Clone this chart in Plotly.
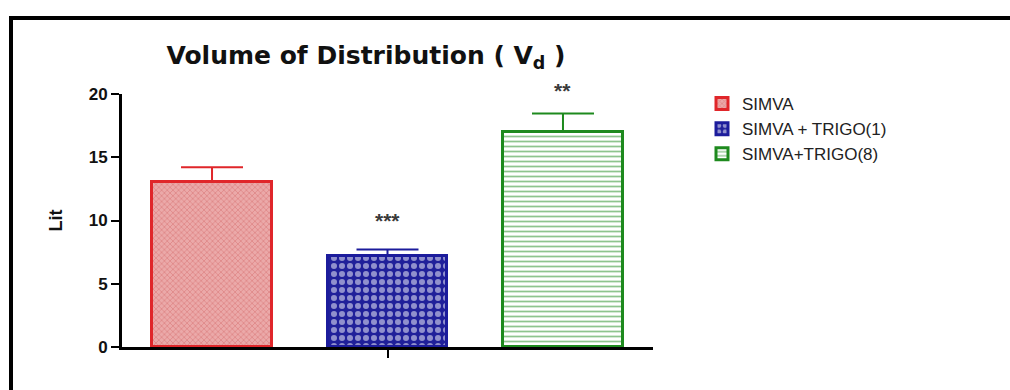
import plotly.graph_objects as go

categories = ["SIMVA", "SIMVA + TRIGO(1)", "SIMVA+TRIGO(8)"]
values = [13.05, 7.2, 17.0]
errors = [1.15, 0.5, 1.45]
stars = ["", "***", "**"]
star_y = [None, 10.0, 20.3]
y_ticks = [0, 5, 10, 15, 20]

line_colors = ["#e0262a", "#1c1c9c", "#1e8a1e"]
bg_colors = ["#eba9a9", "#20209a", "#ffffff"]
fg_colors = ["#d46a6a", "#ffffff", "#1e8a1e"]
shapes_pat = ["x", ".", "-"]
pat_sizes = [4, 8, 5]
pat_sol = [0.4, 0.45, 0.35]

W, H = 1010, 390
L, R = 122, 653
T, B = 94, 346.7
Y_MAX = 20

fig = go.Figure()
for i, c in enumerate(categories):
    fig.add_trace(go.Bar(
        x=[i], y=[values[i]], name=c, width=0.68,
        marker=dict(color=bg_colors[i],
                    line=dict(color=line_colors[i], width=3),
                    pattern=dict(shape=shapes_pat[i], fgcolor=fg_colors[i],
                                 bgcolor=bg_colors[i], size=pat_sizes[i],
                                 solidity=pat_sol[i], fillmode="overlay")),
        error_y=dict(type="data", symmetric=False, array=[errors[i]],
                     arrayminus=[0], color=line_colors[i], thickness=2, width=31),
    ))

for i, s in enumerate(stars):
    if s:
        fig.add_annotation(x=i, y=star_y[i] / Y_MAX, text=s, showarrow=False,
                           font=dict(family="Liberation Sans", size=21, color="#3a3a3a",
                                     weight="bold"),
                           xref="x", yref="paper", yanchor="middle")

pw, ph = R - L, B - T
def px_x(p):
    return (p - L) / pw
def px_y(p):
    return (B - p) / ph

fig.add_shape(type="line", xref="paper", yref="paper",
              x0=px_x(11), x1=px_x(1020), y0=px_y(18), y1=px_y(18),
              line=dict(color="black", width=4))
fig.add_shape(type="line", xref="paper", yref="paper",
              x0=px_x(11), x1=px_x(11), y0=px_y(16), y1=px_y(400),
              line=dict(color="black", width=4))

fig.update_layout(
    width=W, height=H,
    margin=dict(l=L, r=W - R, t=T, b=H - B, pad=0),
    plot_bgcolor="white", paper_bgcolor="white",
    barmode="overlay", bargap=0,
    title=dict(text="Volume of Distribution ( V<sub>d</sub> )",
               x=366 / W, xanchor="center", y=1 - 55 / H, yanchor="middle",
               xref="container", yref="container",
               font=dict(family="DejaVu Sans", size=25, color="#111111", weight="bold")),
    showlegend=True,
    legend=dict(x=px_x(702), y=px_y(86), xanchor="left", yanchor="top",
                font=dict(family="Liberation Sans", size=17, color="#222222"),
                tracegroupgap=0, itemwidth=30, bgcolor="rgba(0,0,0,0)"),
    xaxis=dict(range=[-0.513, 2.513], showgrid=False, zeroline=False,
               showline=True, linecolor="black", linewidth=3,
               tickmode="array", tickvals=[1], showticklabels=False,
               ticks="outside", ticklen=8, tickwidth=2, tickcolor="black"),
    yaxis=dict(range=[0, Y_MAX], showgrid=False, zeroline=False,
               showline=True, linecolor="black", linewidth=3,
               tickmode="array", tickvals=y_ticks,
               ticks="outside", ticklen=8, tickwidth=2, tickcolor="black",
               tickfont=dict(family="Liberation Sans", size=17, color="#111111", weight="bold"),
               title=dict(text="Lit", standoff=22,
                          font=dict(family="Liberation Sans", size=18, color="#111111", weight="bold"))),
)

fig.write_html("out.html")
